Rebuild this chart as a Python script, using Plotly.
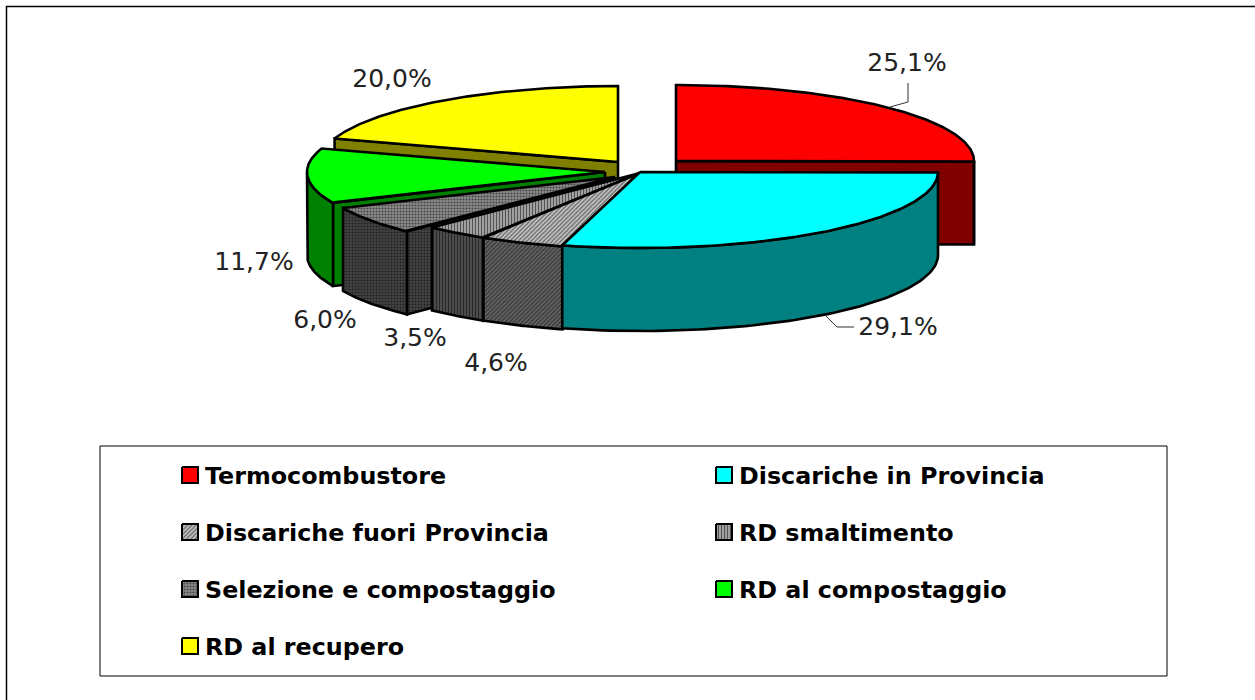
import numpy as np
import plotly.graph_objects as go

# --- data ---
categories = ["Termocombustore", "Discariche in Provincia", "Discariche fuori Provincia",
              "RD smaltimento", "Selezione e compostaggio", "RD al compostaggio", "RD al recupero"]
values = [25.1, 29.1, 4.6, 3.5, 6.0, 11.7, 20.0]

# --- style / layout of the exploded 3D pie (pixel-like plot units) ---
W, H = 1255, 700
RX, RY, DEPTH = 298, 76, 83
apex = [(676, 161), (640, 172), (640, 173), (640, 173), (615, 177), (605, 172), (618, 162)]
draw_order = [6, 0, 5, 4, 3, 2, 1]
label_pos = [(907, 65), (898, 329), (496, 365), (415, 340), (325, 322), (254, 264), (392, 81)]
top_style = [
    dict(fillcolor="#ff0000"), dict(fillcolor="#00ffff"),
    dict(fillpattern=dict(shape="/", fgcolor="#000000", bgcolor="#c4c4c4", size=3, solidity=0.4)),
    dict(fillpattern=dict(shape="|", fgcolor="#000000", bgcolor="#a8a8a8", size=3, solidity=0.4)),
    dict(fillpattern=dict(shape=".", fgcolor="#000000", bgcolor="#8c8c8c", size=3, solidity=0.4)),
    dict(fillcolor="#00ff00"), dict(fillcolor="#ffff00"),
]
wall_style = [
    dict(fillcolor="#800000"), dict(fillcolor="#008080"),
    dict(fillpattern=dict(shape="/", fgcolor="#000000", bgcolor="#666666", size=3, solidity=0.4)),
    dict(fillpattern=dict(shape="|", fgcolor="#000000", bgcolor="#505050", size=3, solidity=0.4)),
    dict(fillpattern=dict(shape=".", fgcolor="#000000", bgcolor="#444444", size=3, solidity=0.4)),
    dict(fillcolor="#008000"), dict(fillcolor="#808000"),
]
legend_x = [182, 716]
legend_y = [475, 532, 589, 646]
legend_text_dy = 3
leader_25 = ([908, 908, 890], [83, 102, 107])
leader_29 = ([825, 837, 854], [315, 327, 327])

fig = go.Figure()


def poly(xs, ys, style, name, lw=2.6):
    fig.add_trace(go.Scatter(
        x=list(xs), y=list(ys), mode="lines", fill="toself", name=name,
        line=dict(color="#000000", width=lw), hoverinfo="skip", showlegend=False, **style))


def rim(ax, ay, t):
    return ax + RX * np.sin(t), ay - RY * np.cos(t)


edges = np.cumsum([0] + values) / sum(values) * 2 * np.pi

for i in draw_order:
    a, b = edges[i], edges[i + 1]
    ax, ay = apex[i]
    name = categories[i]
    # visible cut faces
    for t, visible in ((a, np.sin(a) < -1e-6), (b, np.sin(b) > 1e-6)):
        if visible:
            rx_, ry_ = rim(ax, ay, t)
            poly([ax, rx_, rx_, ax, ax], [ay, ry_, ry_ + DEPTH, ay + DEPTH, ay], wall_style[i], name)
    # visible outer wall (front half of the rim)
    lo, hi = max(a, np.pi / 2), min(b, 3 * np.pi / 2)
    if hi > lo:
        t = np.linspace(lo, hi, 80)
        xr, yr = rim(ax, ay, t)
        poly(np.r_[xr, xr[::-1], xr[0]], np.r_[yr, yr[::-1] + DEPTH, yr[0]], wall_style[i], name)
    # top face
    t = np.linspace(a, b, 120)
    xr, yr = rim(ax, ay, t)
    poly(np.r_[ax, xr, ax], np.r_[ay, yr, ay], top_style[i], name)

# leader lines
for lx, ly in (leader_25, leader_29):
    fig.add_trace(go.Scatter(x=lx, y=ly, mode="lines", line=dict(color="#333333", width=1),
                             hoverinfo="skip", showlegend=False))

# percentage labels
fig.add_trace(go.Scatter(
    x=[p[0] for p in label_pos], y=[p[1] for p in label_pos], mode="text",
    text=[f"{v:.1f}%".replace(".", ",") for v in values],
    textposition="middle center",
    textfont=dict(family="DejaVu Sans", size=25, color="#222222"),
    hoverinfo="skip", showlegend=False))

# legend block
for k, name in enumerate(categories):
    lx = legend_x[k % 2]
    ly = legend_y[k // 2]
    poly([lx, lx + 16, lx + 16, lx, lx], [ly - 8, ly - 8, ly + 8, ly + 8, ly - 8], top_style[k], name, lw=2)
    fig.add_trace(go.Scatter(
        x=[lx + 23], y=[ly + legend_text_dy], mode="text", text=[f"<b>{name}</b>"], textposition="middle right",
        textfont=dict(family="DejaVu Sans", size=23.8, color="#000000"),
        hoverinfo="skip", showlegend=False))

fig.update_layout(
    width=W, height=H, margin=dict(l=0, r=0, t=0, b=0),
    paper_bgcolor="#ffffff", plot_bgcolor="#ffffff", showlegend=False,
    xaxis=dict(range=[0, W], visible=False, fixedrange=True),
    yaxis=dict(range=[H, 0], visible=False, fixedrange=True),
    shapes=[
        dict(type="rect", xref="x", yref="y", x0=6.5, y0=6.5, x1=W + 20, y1=H + 20,
             line=dict(color="#000000", width=1.5), layer="below"),
        dict(type="rect", xref="x", yref="y", x0=100, y0=446, x1=1167, y1=676,
             line=dict(color="#000000", width=1), layer="below"),
    ],
)
fig.write_html("out.html", config=dict(displayModeBar=False),
               post_script="document.body.style.margin='0';document.documentElement.style.overflow='hidden';")
